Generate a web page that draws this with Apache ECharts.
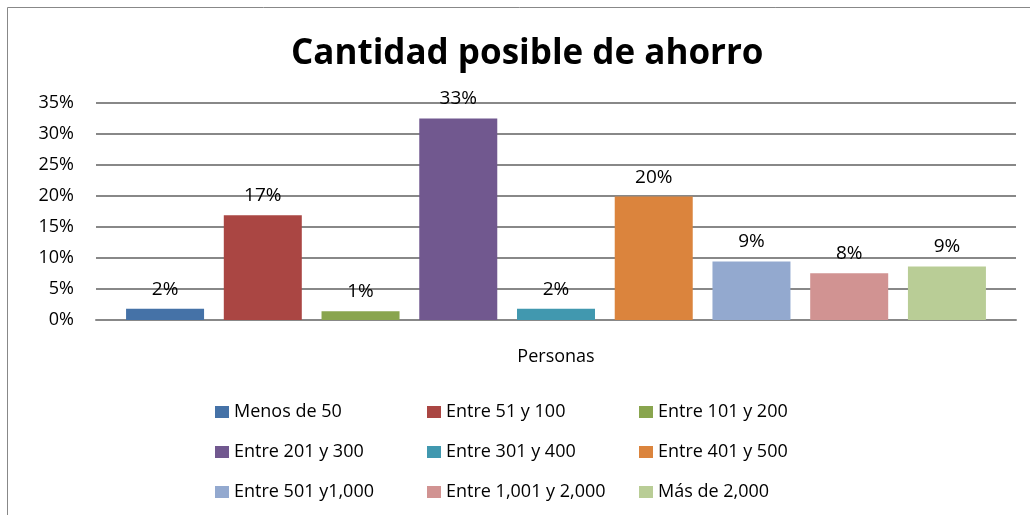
<!DOCTYPE html>
<html>
<head>
<meta charset="utf-8">
<script src="https://cdn.jsdelivr.net/npm/echarts@6/dist/echarts.min.js"></script>
<style>
  html, body { margin: 0; padding: 0; background: #fff; }
  #chart { width: 1030px; height: 515px; }
</style>
</head>
<body>
<div id="chart"></div>
<script>
// datos
var categories = ['Personas'];
var seriesNames = ['Menos de 50', 'Entre 51 y 100', 'Entre 101 y 200',
  'Entre 201 y 300', 'Entre 301 y 400', 'Entre 401 y 500',
  'Entre 501 y1,000', 'Entre 1,001 y 2,000', 'Más de 2,000'];
var seriesValues = [1.8, 16.9, 1.4, 32.5, 1.8, 19.9, 9.45, 7.55, 8.64];
var colors = ['#4572A7', '#AA4643', '#89A54E', '#71588F', '#4198AF',
  '#DB843D', '#93A9CF', '#D19392', '#B9CD96'];
var yTicks = [0, 5, 10, 15, 20, 25, 30, 35];

var FONT = '"Open Sans", "Noto Sans", sans-serif';

var myChart = echarts.init(document.getElementById('chart'));

// una serie por rango, todas en la misma categoria
var series = seriesNames.map(function (name, i) {
  return {
    name: name,
    type: 'bar',
    barWidth: 78,
    barGap: '25.3%',
    itemStyle: { color: colors[i] },
    label: {
      show: true,
      position: 'top',
      distance: 10,
      color: '#000',
      fontFamily: FONT,
      fontSize: 19,
      formatter: function (p) {
        return Math.round(p.value) + '%';
      },
    },
    data: [seriesValues[i]],
  };
});

var option = {
  backgroundColor: '#fff',
  animation: false,
  title: {
    text: 'Cantidad posible de ahorro',
    left: 286,
    top: 32,
    textStyle: {
      fontFamily: FONT,
      fontSize: 35,
      fontWeight: 'bold',
      color: '#000',
    },
  },
  graphic: [{
    type: 'rect',
    shape: { x: 7.5, y: 7.5, width: 1040, height: 520 },
    style: { fill: 'none', stroke: '#888', lineWidth: 1 },
    silent: true,
  }],
  legend: {
    left: 215,
    top: 402,
    width: 650,
    padding: 0,
    itemWidth: 14,
    itemHeight: 12,
    itemGap: 20,
    icon: 'rect',
    textStyle: {
      fontFamily: FONT,
      fontSize: 18,
      color: '#000',
      width: 173,
      lineHeight: 20,
    },
    data: seriesNames,
  },
  grid: {
    left: 96,
    right: 14,
    top: 103,
    bottom: 195,
  },
  xAxis: {
    type: 'category',
    data: categories,
    axisLine: { lineStyle: { color: '#888', width: 2 } },
    axisTick: { show: false },
    axisLabel: {
      margin: 28,
      color: '#000',
      fontFamily: FONT,
      fontSize: 18,
    },
  },
  yAxis: {
    type: 'value',
    min: yTicks[0],
    max: yTicks[yTicks.length - 1],
    interval: 5,
    axisLine: { show: false },
    axisTick: { show: false },
    axisLabel: {
      margin: 22,
      color: '#000',
      fontFamily: FONT,
      fontSize: 18,
      formatter: '{value}%',
    },
    splitLine: { lineStyle: { color: '#888', width: 2 } },
  },
  series: series,
};

myChart.setOption(option);
</script>
</body>
</html>
